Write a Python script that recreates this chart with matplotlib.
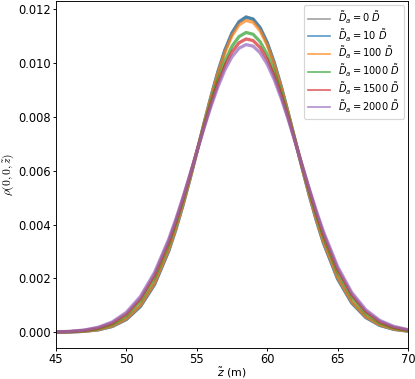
import matplotlib
matplotlib.use("Agg")
import matplotlib.pyplot as plt

# z positions (m) and density profiles rho(0,0,z)
z = [45, 46, 47, 48, 49, 50, 51, 52, 53, 53.5, 54, 54.5, 55, 55.5, 56, 56.5, 57, 57.5,
     58, 58.5, 59, 59.5, 60, 60.5, 61, 61.5, 62, 62.5, 63, 63.5, 64, 65, 66, 67, 68, 69, 70]

rho_0 = [0.000004, 0.000012, 0.000034, 0.000090, 0.000216, 0.000476, 0.000960, 0.001775,
         0.003012, 0.003798, 0.004686, 0.005658, 0.006685, 0.007729, 0.008744, 0.009682,
         0.010490, 0.011121, 0.011539, 0.011715, 0.011639, 0.011316, 0.010766, 0.010023,
         0.009132, 0.008141, 0.007103, 0.006064, 0.005066, 0.004141, 0.003313, 0.001987,
         0.001093, 0.000551, 0.000255, 0.000108, 0.000042]
rho_10 = [0.000004, 0.000012, 0.000035, 0.000091, 0.000217, 0.000478, 0.000963, 0.001780,
          0.003016, 0.003802, 0.004689, 0.005660, 0.006685, 0.007728, 0.008741, 0.009677,
          0.010483, 0.011113, 0.011529, 0.011705, 0.011629, 0.011307, 0.010758, 0.010017,
          0.009128, 0.008139, 0.007103, 0.006065, 0.005069, 0.004145, 0.003318, 0.001991,
          0.001096, 0.000554, 0.000256, 0.000109, 0.000042]
rho_100 = [0.000005, 0.000014, 0.000039, 0.000099, 0.000233, 0.000505, 0.001003, 0.001830,
           0.003069, 0.003850, 0.004728, 0.005685, 0.006693, 0.007713, 0.008703, 0.009615,
           0.010399, 0.011011, 0.011415, 0.011585, 0.011512, 0.011199, 0.010666, 0.009946,
           0.009080, 0.008116, 0.007102, 0.006084, 0.005103, 0.004191, 0.003369, 0.002044,
           0.001139, 0.000583, 0.000274, 0.000119, 0.000047]
rho_1000 = [0.000008, 0.000022, 0.000057, 0.000137, 0.000302, 0.000616, 0.001161, 0.002025,
            0.003264, 0.004025, 0.004866, 0.005769, 0.006708, 0.007647, 0.008550, 0.009374,
            0.010078, 0.010625, 0.010984, 0.011136, 0.011070, 0.010792, 0.010317, 0.009672,
            0.008891, 0.008015, 0.007085, 0.006142, 0.005221, 0.004352, 0.003558, 0.002242,
            0.001306, 0.000704, 0.000351, 0.000162, 0.000069]
rho_1500 = [0.000011, 0.000028, 0.000070, 0.000162, 0.000345, 0.000682, 0.001251, 0.002130,
            0.003365, 0.004113, 0.004932, 0.005806, 0.006707, 0.007604, 0.008461, 0.009240,
            0.009903, 0.010417, 0.010754, 0.010896, 0.010835, 0.010574, 0.010128, 0.009521,
            0.008784, 0.007953, 0.007068, 0.006164, 0.005276, 0.004433, 0.003655, 0.002349,
            0.001400, 0.000775, 0.000398, 0.000189, 0.000084]
rho_2000 = [0.000014, 0.000035, 0.000084, 0.000186, 0.000386, 0.000743, 0.001333, 0.002224,
            0.003452, 0.004186, 0.004986, 0.005832, 0.006700, 0.007560, 0.008378, 0.009119,
            0.009748, 0.010234, 0.010552, 0.010686, 0.010629, 0.010382, 0.009961, 0.009386,
            0.008686, 0.007895, 0.007047, 0.006178, 0.005320, 0.004499, 0.003737, 0.002442,
            0.001485, 0.000840, 0.000442, 0.000217, 0.000099]

Da = ['0', '10', '100', '1000', '1500', '2000']
profiles = [rho_0, rho_10, rho_100, rho_1000, rho_1500, rho_2000]
colors = ['gray', 'C0', 'C1', 'C2', 'C3', 'C4']

# ==============================================================================
plt.rcParams['xtick.major.pad'] = 1.5
plt.rcParams['ytick.major.pad'] = 1.5
plt.rcParams['xtick.major.size'] = 3
plt.rcParams['ytick.major.size'] = 3

fig = plt.figure(figsize=(415 / 83, 379 / 83), dpi=83)
ax = fig.add_subplot(1, 1, 1)
fig.subplots_adjust(left=0.135, right=0.983, top=0.997, bottom=0.082)

for d, rho, c in zip(Da, profiles, colors):
    ax.plot(z, rho, color=c, lw=2.8, alpha=0.7,
            label=r'$\tilde{D}_a = %s\ \tilde{D}$' % d)

ax.set_xlim(45, 70)
ax.set_xlabel(r'$\tilde{z}$ (m)', fontsize=9.5, labelpad=0)
ax.set_ylabel(r'$\rho(0,0,\tilde{z})$', math_fontfamily='cm', fontsize=10, labelpad=2)

leg = ax.legend(loc='upper right', fontsize=8.6, labelspacing=0.1,
                handlelength=2.2, borderaxespad=0.4)
for h in leg.get_lines():
    h.set_linewidth(1.5)

fig.savefig('out.png', dpi=83)
